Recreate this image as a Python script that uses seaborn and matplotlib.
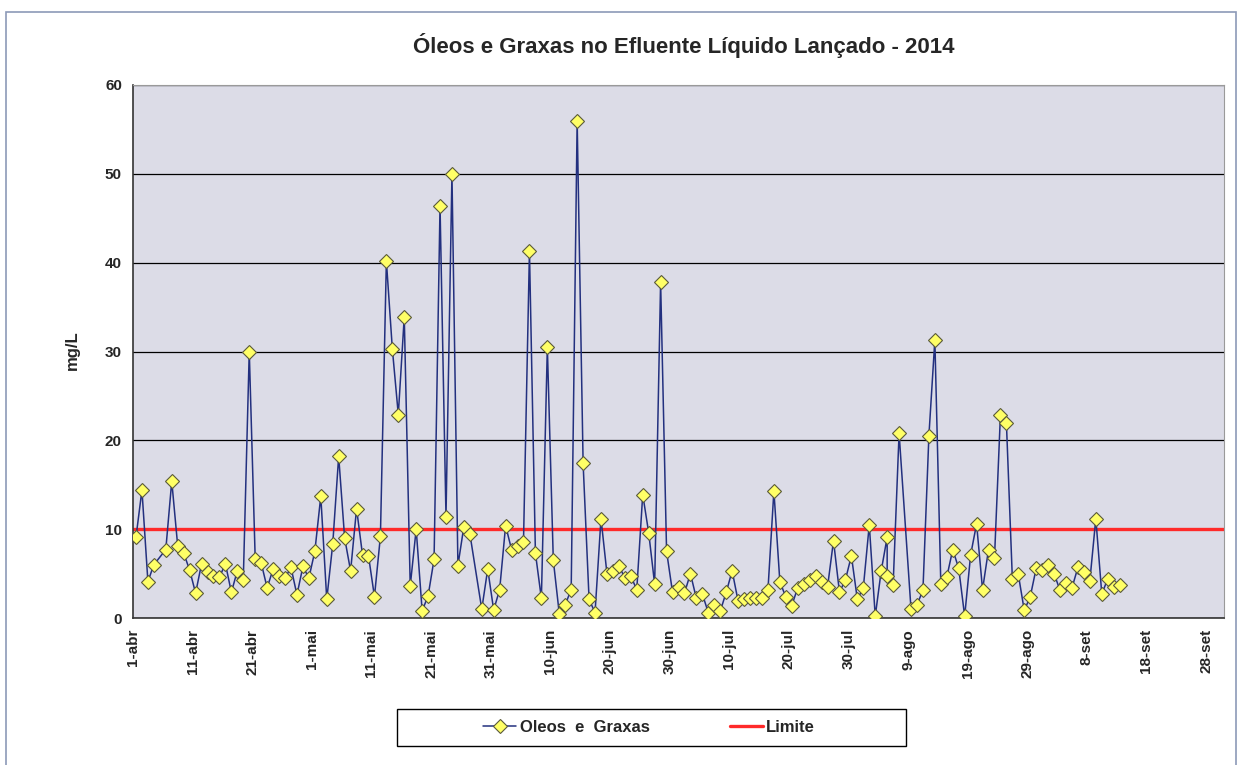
import pandas as pd
import matplotlib
matplotlib.use("Agg")
import matplotlib.pyplot as plt
from matplotlib.patches import Rectangle
import seaborn as sns

# datas das análises (dd/mm de 2014) e resultados em mg/L
datas = [
    "01/04", "02/04", "03/04", "04/04", "06/04", "07/04", "08/04", "09/04", "10/04", "11/04",
    "12/04", "13/04", "14/04", "15/04", "16/04", "17/04", "18/04", "19/04", "20/04", "21/04",
    "22/04", "23/04", "24/04", "25/04", "26/04", "27/04", "28/04", "29/04", "30/04",
    "01/05", "02/05", "03/05", "04/05", "05/05", "06/05", "07/05", "08/05", "09/05", "10/05",
    "11/05", "12/05", "13/05", "14/05", "15/05", "16/05", "17/05", "18/05", "19/05", "20/05",
    "21/05", "22/05", "23/05", "24/05", "25/05", "26/05", "27/05", "29/05", "30/05", "31/05",
    "01/06", "02/06", "03/06", "04/06", "05/06", "06/06", "07/06", "08/06", "09/06", "10/06",
    "11/06", "12/06", "13/06", "14/06", "15/06", "16/06", "17/06", "18/06", "19/06", "20/06",
    "21/06", "22/06", "23/06", "24/06", "25/06", "26/06", "27/06", "28/06", "29/06", "30/06",
    "01/07", "02/07", "03/07", "04/07", "05/07", "06/07", "07/07", "08/07", "09/07", "10/07",
    "11/07", "12/07", "13/07", "14/07", "15/07", "16/07", "17/07", "18/07", "19/07", "20/07",
    "21/07", "22/07", "23/07", "24/07", "25/07", "26/07", "27/07", "28/07", "29/07", "30/07",
    "31/07",
    "01/08", "02/08", "03/08", "04/08", "05/08", "05/08", "06/08", "07/08", "09/08", "10/08",
    "11/08", "12/08", "13/08", "14/08", "15/08", "16/08", "17/08", "18/08", "19/08", "20/08",
    "21/08", "22/08", "23/08", "24/08", "25/08", "26/08", "27/08", "28/08", "29/08", "30/08",
    "31/08",
    "01/09", "02/09", "03/09", "04/09", "05/09", "06/09", "07/09", "08/09", "09/09", "10/09",
    "11/09", "12/09", "13/09",
]
valores = [
    9.1, 14.4, 4.1, 6.0, 7.7, 15.4, 8.1, 7.3, 5.4, 2.8,
    6.1, 5.2, 4.7, 4.6, 6.1, 2.9, 5.3, 4.3, 30.0, 6.6,
    6.2, 3.4, 5.5, 4.7, 4.5, 5.7, 2.6, 5.8, 4.5,
    7.5, 13.7, 2.1, 8.3, 18.2, 9.0, 5.3, 12.3, 7.1, 7.0,
    2.4, 9.2, 40.2, 30.3, 22.9, 33.9, 3.6, 10.0, 0.8, 2.5,
    6.6, 46.4, 11.4, 50.0, 5.9, 10.3, 9.5, 1.0, 5.5, 0.9,
    3.2, 10.4, 7.7, 8.1, 8.6, 41.3, 7.3, 2.2, 30.5, 6.5,
    0.5, 1.5, 3.2, 56.0, 17.4, 2.1, 0.6, 11.2, 5.0, 5.3,
    5.9, 4.5, 4.7, 3.2, 13.9, 9.6, 3.8, 37.8, 7.5, 2.9,
    3.5, 2.8, 5.0, 2.2, 2.7, 0.6, 1.5, 0.75, 2.9, 5.3,
    1.9, 2.1, 2.2, 2.2, 2.2, 3.1, 14.3, 4.1, 2.35, 1.4,
    3.4, 3.8, 4.3, 4.7, 4.1, 3.5, 8.7, 2.9, 4.3, 7.0,
    2.1,
    3.4, 10.5, 0.2, 5.3, 9.1, 4.7, 3.7, 20.8, 1.0, 1.5,
    3.1, 20.5, 31.3, 3.8, 4.6, 7.7, 5.6, 0.2, 7.1, 10.6,
    3.2, 7.7, 6.7, 22.9, 22.0, 4.4, 4.9, 0.85, 2.4, 5.6,
    5.4,
    6.0, 5.0, 3.1, 3.9, 3.4, 5.7, 5.2, 4.2, 11.2, 2.7,
    4.4, 3.5, 3.7,
]
limite = 10
meses = {4: "abr", 5: "mai", 6: "jun", 7: "jul", 8: "ago", 9: "set"}
ticks_x = pd.date_range("2014-04-01", "2014-09-28", freq="10D")
ticks_y = [0, 10, 20, 30, 40, 50, 60]

df = pd.DataFrame({
    "data": pd.to_datetime([d + "/2014" for d in datas], format="%d/%m/%Y") + pd.Timedelta(hours=12),
    "valor": valores,
})

sns.set_style("white")
plt.rcParams["font.family"] = ["Liberation Sans", "DejaVu Sans"]
plt.rcParams["font.weight"] = "bold"

W, H = 1241, 765
fig = plt.figure(figsize=(W / 100, H / 100), dpi=100)
ax = fig.add_axes([133 / W, 1 - 618 / H, (1224 - 133) / W, (618 - 85) / H])
ax.set_facecolor("#DCDCE7")

sns.lineplot(
    data=df, x="data", y="valor", estimator=None, sort=False, ax=ax,
    color="#23307F", lw=1.1, marker="D", markersize=7,
    markerfacecolor="#FFFF66", markeredgecolor="#5A5A3A", markeredgewidth=0.8,
    label="Oleos  e  Graxas", zorder=3,
)
ax.axhline(limite, color="#FF2A2A", lw=2.4, label="Limite", zorder=2)

ax.set_xlim(pd.Timestamp("2014-04-01"), pd.Timestamp("2014-10-01"))
ax.set_ylim(0, 60)
ax.set_yticks(ticks_y)
ax.set_yticklabels([str(v) for v in ticks_y], fontsize=11, fontweight="bold")
ax.set_xticks(ticks_x)
ax.set_xticklabels([f"{d.day}-{meses[d.month]}" for d in ticks_x],
                   rotation=90, fontsize=11, fontweight="bold")
ax.tick_params(axis="both", direction="out", length=5, width=1, color="#333333", pad=3)
ax.set_xlabel("")
ax.set_ylabel("")
ax.yaxis.grid(True, color="black", lw=0.9)
ax.set_axisbelow(True)
for s in ["top", "right"]:
    ax.spines[s].set_color("#9A9A9A")
    ax.spines[s].set_linewidth(0.8)
for s in ["left", "bottom"]:
    ax.spines[s].set_color("#333333")
    ax.spines[s].set_linewidth(1.2)

fig.text(684 / W, 1 - 45 / H, "Óleos e Graxas no Efluente Líquido Lançado - 2014",
         ha="center", va="center", fontsize=16, fontweight="bold")
fig.text(72 / W, 1 - 350 / H, "mg/L", rotation=90, ha="center", va="center",
         fontsize=12, fontweight="bold")

# legenda sem moldura + caixa desenhada à parte (mais larga que as entradas)
ax.legend_.remove()
handles, labels = ax.get_legend_handles_labels()
fig.legend(handles, labels, loc="center", bbox_to_anchor=(649 / W, 1 - 727 / H),
           ncol=2, frameon=False, columnspacing=4.8, handlelength=2.0,
           handletextpad=0.2, prop={"size": 12, "weight": "bold"})
fig.patches.append(Rectangle((397 / W, 1 - 746 / H), (906 - 397) / W, 37 / H,
                             transform=fig.transFigure, fill=False,
                             edgecolor="black", lw=1.0))

fig.patches.append(Rectangle((6 / W, -0.1), (1236 - 6) / W, (H - 12) / H + 0.1,
                             transform=fig.transFigure, fill=False,
                             edgecolor="#8C9AB8", lw=1.2))

fig.savefig("out.png", dpi=100)
